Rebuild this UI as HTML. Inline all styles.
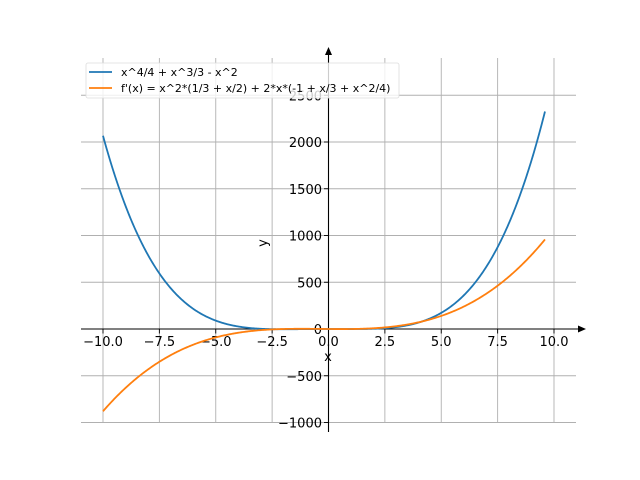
<!DOCTYPE html>
<html><head><meta charset="utf-8"><style>
html,body{margin:0;padding:0;background:#fff;}
svg{display:block;font-family:"DejaVu Sans","Liberation Sans",sans-serif;}
</style></head><body>
<svg id="s" width="640" height="480" viewBox="0 0 640 480" xmlns="http://www.w3.org/2000/svg">
<g id="grid" stroke="#b0b0b0" stroke-width="0.9"></g>
<line x1="81" y1="329" x2="580" y2="329" stroke="#000" stroke-width="1.1"/>
<polygon points="586,329 578,325.5 578,332.5" fill="#000"/>
<line x1="328.5" y1="54" x2="328.5" y2="432" stroke="#000" stroke-width="1.1"/>
<polygon points="328.5,47 325,55 332,55" fill="#000"/>
<g id="ticks" stroke="#000" stroke-width="0.9"></g>
<g id="labels" font-size="13" fill="#000"></g>
<path id="p1" fill="none" stroke="#1f77b4" stroke-width="1.8"/>
<path id="p2" fill="none" stroke="#ff7f0e" stroke-width="1.8"/>
<text x="328" y="361" font-size="13" text-anchor="middle">x</text>
<text transform="translate(267,243) rotate(-90)" font-size="13" text-anchor="middle">y</text>
<rect x="86" y="63" width="313" height="35" fill="#fff" fill-opacity="0.8" stroke="#ddd" stroke-width="0.8" rx="2"/>
<line x1="89" y1="72" x2="112" y2="72" stroke="#1f77b4" stroke-width="1.8"/>
<line x1="89" y1="88" x2="112" y2="88" stroke="#ff7f0e" stroke-width="1.8"/>
<text x="121" y="76" font-size="11">x^4/4 + x^3/3 - x^2</text>
<text x="121" y="92" font-size="11">f'(x) = x^2*(1/3 + x/2) + 2*x*(-1 + x/3 + x^2/4)</text>
</svg>
<script>
var X=function(x){return 328.5+x*22.55;},Y=function(y){return 329-y*0.0935;};
var ns="http://www.w3.org/2000/svg";
function el(p,t,a,txt){var e=document.createElementNS(ns,t);for(var k in a)e.setAttribute(k,a[k]);if(txt!==undefined)e.textContent=txt;document.getElementById(p).appendChild(e);}
for(var i=-4;i<=4;i++){var v=i*2.5,x=X(v);
 el("grid","line",{x1:x,y1:58,x2:x,y2:422});
 el("ticks","line",{x1:x,y1:329,x2:x,y2:333.5});
 el("labels","text",{x:x,y:346,"text-anchor":"middle"},(v<0?"\u2212":"")+Math.abs(v).toFixed(1));}
for(var j=-2;j<=5;j++){var v=j*500,y=Y(v);
 el("grid","line",{x1:81,y1:y,x2:576,y2:y});
 el("ticks","line",{x1:324,y1:y,x2:328.5,y2:y});
 el("labels","text",{x:322,y:y+5,"text-anchor":"end"},(v<0?"\u2212":"")+Math.abs(v));}
var d1="",d2="";
for(var k=0;k<=400;k++){var x=-10+19.6*k/400;
 var f=x*x*x*x/4+x*x*x/3-x*x, g=x*x*x+x*x-2*x;
 d1+=(k?"L":"M")+X(x).toFixed(2)+","+Y(f).toFixed(2);
 d2+=(k?"L":"M")+X(x).toFixed(2)+","+Y(g).toFixed(2);}
document.getElementById("p1").setAttribute("d",d1);
document.getElementById("p2").setAttribute("d",d2);
</script>
</body></html>
